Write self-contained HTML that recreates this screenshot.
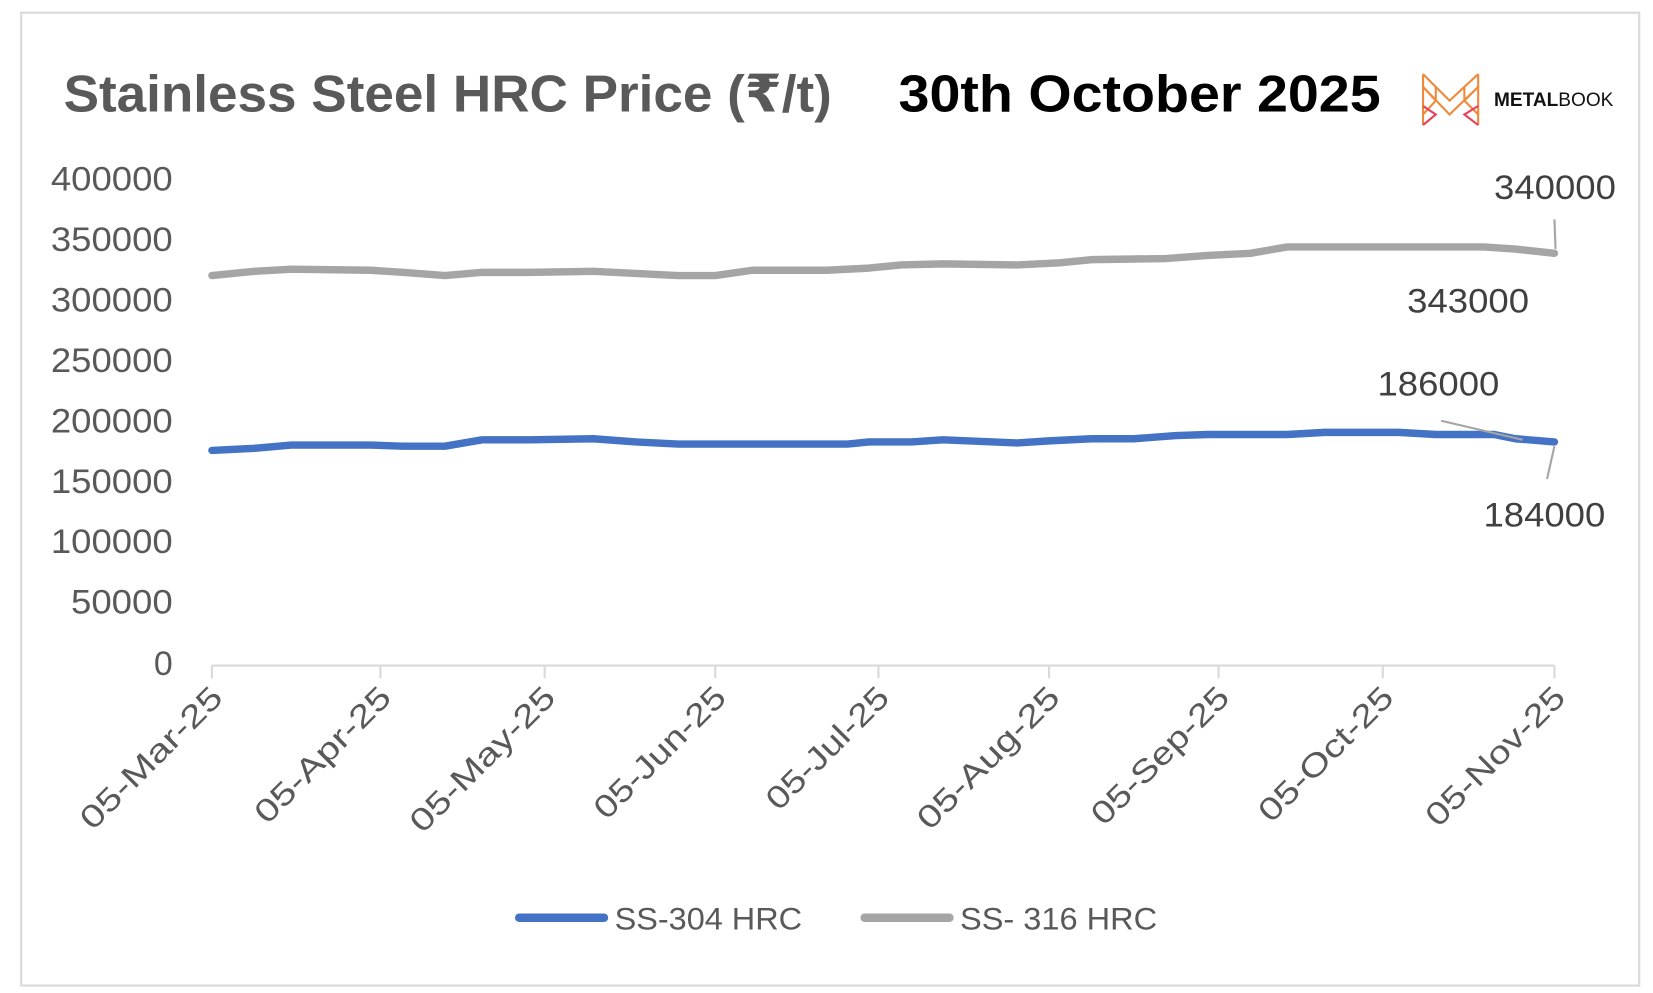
<!DOCTYPE html>
<html><head><meta charset="utf-8"><style>
html,body{margin:0;padding:0;background:#fff;width:1653px;height:993px;overflow:hidden}
svg{display:block}
text{font-family:"Liberation Sans","DejaVu Sans",sans-serif}
</style></head><body>
<svg width="1653" height="993" viewBox="0 0 1560 937" preserveAspectRatio="none">
<rect x="20" y="12" width="1527" height="918" fill="#fff" stroke="#d9d9d9" stroke-width="2"/>
<text x="60" y="105" font-size="49" font-weight="bold" fill="#595959" textLength="725" lengthAdjust="spacingAndGlyphs">Stainless Steel HRC Price (₹/t)</text>
<text x="848" y="105" font-size="49" font-weight="bold" fill="#000" textLength="455" lengthAdjust="spacingAndGlyphs">30th October 2025</text>
<g stroke="#f0883a" stroke-width="2" fill="none">
<path d="M1343 70 L1355 82 L1368 95 L1382 82 L1395 70 M1343 70 V118 M1395 70 V118 M1343 82 L1368 108 L1395 82 M1343 108 L1355 95 L1343 82 M1395 108 L1382 95 L1395 82 M1355 82 V95 M1382 82 V95" stroke="#f08a3a"/>
<path d="M1343 100 L1355 108 L1343 118 M1395 100 L1382 108 L1395 118" stroke="#e8405a"/>
</g>
<text x="1410" y="100" font-size="18" fill="#111"><tspan font-weight="bold">METAL</tspan>BOOK</text>
<g font-size="32" fill="#595959" text-anchor="end">
<text x="163" y="180" textLength="115" lengthAdjust="spacingAndGlyphs">400000</text><text x="163" y="237" textLength="115" lengthAdjust="spacingAndGlyphs">350000</text><text x="163" y="294" textLength="115" lengthAdjust="spacingAndGlyphs">300000</text>
<text x="163" y="351" textLength="115" lengthAdjust="spacingAndGlyphs">250000</text><text x="163" y="408" textLength="115" lengthAdjust="spacingAndGlyphs">200000</text><text x="163" y="465" textLength="115" lengthAdjust="spacingAndGlyphs">150000</text>
<text x="163" y="522" textLength="115" lengthAdjust="spacingAndGlyphs">100000</text><text x="163" y="579" textLength="96" lengthAdjust="spacingAndGlyphs">50000</text><text x="163" y="637">0</text>
</g>
<g stroke="#d9d9d9" stroke-width="2">
<line x1="200" y1="628" x2="1467" y2="628"/>
<line x1="200" y1="628" x2="200" y2="640"/><line x1="359" y1="628" x2="359" y2="640"/><line x1="514" y1="628" x2="514" y2="640"/><line x1="675" y1="628" x2="675" y2="640"/><line x1="829" y1="628" x2="829" y2="640"/><line x1="990" y1="628" x2="990" y2="640"/><line x1="1150" y1="628" x2="1150" y2="640"/><line x1="1305" y1="628" x2="1305" y2="640"/><line x1="1467" y1="628" x2="1467" y2="640"/>
</g>
<g font-size="30" fill="#595959" text-anchor="end">
<text transform="translate(212,660) rotate(-45)" textLength="176" lengthAdjust="spacingAndGlyphs">05-Mar-25</text>
<text transform="translate(371,660) rotate(-45)" textLength="168" lengthAdjust="spacingAndGlyphs">05-Apr-25</text>
<text transform="translate(526,660) rotate(-45)" textLength="180" lengthAdjust="spacingAndGlyphs">05-May-25</text>
<text transform="translate(687,660) rotate(-45)" textLength="162" lengthAdjust="spacingAndGlyphs">05-Jun-25</text>
<text transform="translate(841,660) rotate(-45)" textLength="150" lengthAdjust="spacingAndGlyphs">05-Jul-25</text>
<text transform="translate(1002,660) rotate(-45)" textLength="176" lengthAdjust="spacingAndGlyphs">05-Aug-25</text>
<text transform="translate(1162,660) rotate(-45)" textLength="170" lengthAdjust="spacingAndGlyphs">05-Sep-25</text>
<text transform="translate(1317,660) rotate(-45)" textLength="166" lengthAdjust="spacingAndGlyphs">05-Oct-25</text>
<text transform="translate(1479,660) rotate(-45)" textLength="172" lengthAdjust="spacingAndGlyphs">05-Nov-25</text>
</g>
<polyline fill="none" stroke="#a5a5a5" stroke-width="7" stroke-linecap="round" stroke-linejoin="round" points="200,260 240,256 275,254 350,255 380,257 420,260 455,257 500,257 560,256 600,258 640,260 675,260 710,255 780,255 820,253 850,250 890,249 960,250 1000,248 1030,245 1100,244 1140,241 1180,239 1215,233 1400,233 1430,235 1467,239"/>
<polyline fill="none" stroke="#4472c4" stroke-width="7" stroke-linecap="round" stroke-linejoin="round" points="200,425 240,423 275,420 350,420 380,421 420,421 455,415 500,415 560,414 600,417 640,419 800,419 820,417 860,417 890,415 960,418 990,416 1030,414 1070,414 1110,411 1140,410 1215,410 1250,408 1320,408 1355,410 1410,410 1430,414 1467,417"/>
<g stroke="#a5a5a5" stroke-width="2">
<line x1="1467" y1="207" x2="1468" y2="235"/>
<line x1="1360" y1="397" x2="1437" y2="415"/>
<line x1="1467" y1="421" x2="1460" y2="452"/>
</g>
<g font-size="32" fill="#404040">
<text x="1410" y="188" textLength="115" lengthAdjust="spacingAndGlyphs">340000</text>
<text x="1328" y="295" textLength="115" lengthAdjust="spacingAndGlyphs">343000</text>
<text x="1300" y="373" textLength="115" lengthAdjust="spacingAndGlyphs">186000</text>
<text x="1400" y="497" textLength="115" lengthAdjust="spacingAndGlyphs">184000</text>
</g>
<line x1="490" y1="866" x2="570" y2="866" stroke="#4472c4" stroke-width="8" stroke-linecap="round"/>
<text x="580" y="877" font-size="30" fill="#595959" textLength="177" lengthAdjust="spacingAndGlyphs">SS-304 HRC</text>
<line x1="816" y1="866" x2="896" y2="866" stroke="#a5a5a5" stroke-width="8" stroke-linecap="round"/>
<text x="906" y="877" font-size="30" fill="#595959" textLength="186" lengthAdjust="spacingAndGlyphs">SS- 316 HRC</text>
</svg>
</body></html>
